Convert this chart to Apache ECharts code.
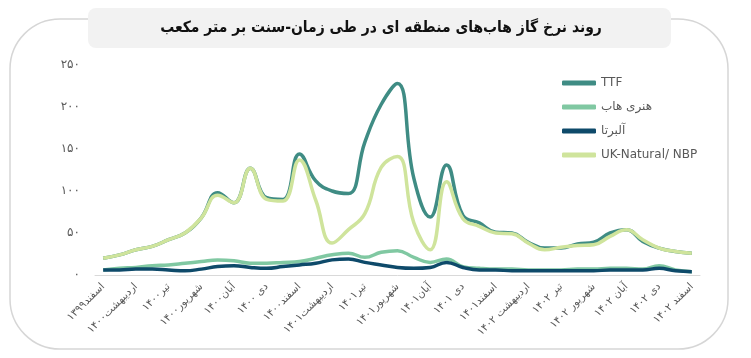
<!DOCTYPE html>
<html>
<head>
<meta charset="utf-8">
<script src="https://cdn.jsdelivr.net/npm/echarts@6/dist/echarts.min.js"></script>
<style>
html,body{margin:0;padding:0;background:#fff;}
#c{width:751px;height:358px;}
</style>
</head>
<body>
<div id="c"></div>
<script>
var months = [
  'اسفند۱۳۹۹','فروردین۱۴۰۰','اردیبهشت۱۴۰۰','خرداد۱۴۰۰','تیر۱۴۰۰','مرداد۱۴۰۰','شهریور۱۴۰۰','مهر۱۴۰۰','آبان۱۴۰۰','آذر۱۴۰۰','دی ۱۴۰۰','بهمن۱۴۰۰',
  'اسفند۱۴۰۰','فروردین۱۴۰۱','اردیبهشت۱۴۰۱','خرداد۱۴۰۱','تیر۱۴۰۱','مرداد۱۴۰۱','شهریور۱۴۰۱','مهر۱۴۰۱','آبان۱۴۰۱','آذر۱۴۰۱','دی ۱۴۰۱','بهمن۱۴۰۱',
  'اسفند۱۴۰۱','فروردین ۱۴۰۲','اردیبهشت ۱۴۰۲','خرداد ۱۴۰۲','تیر ۱۴۰۲','مرداد ۱۴۰۲','شهریور ۱۴۰۲','مهر ۱۴۰۲','آبان ۱۴۰۲','آذر ۱۴۰۲','دی ۱۴۰۲','بهمن ۱۴۰۲',
  'اسفند ۱۴۰۲'
];
var ttf     = [20,24,30,34,42,50,68,98,86,127,92,90,144,112,100,97,158,203,228,115,69,131,71,62,51,50,39,32,32,37,39,50,54,40,32,28,26];
var henry   = [6,8,9,11,12,14,16,18,17,14,14,15,16,20,24,26,21,27,29,21,15,19,10,8,7,7,6,6,6,7,7,8,8,7,11,6,4];
var alberta = [6,6,7,7,6,5,7,10,11,9,8,10,12,14,18,19,15,12,9,8,9,15,9,6,6,5,5,5,5,5,5,6,6,6,8,5,4];
var nbp     = [20,24,30,34,42,50,68,95,86,127,90,88,137,89,38,54,73,128,141,62,30,111,67,58,50,49,38,30,33,35,36,46,54,42,32,28,26];
var seriesNames = ['TTF','هنری هاب','آلبرتا','UK-Natural/ NBP'];
var yTicks = {min:0, max:250, interval:50};
var titleText = 'روند نرخ گاز هاب‌های منطقه ای در طی زمان-سنت بر متر مکعب';

function fa(n){ return String(n).replace(/[0-9]/g, function(d){ return '۰۱۲۳۴۵۶۷۸۹'[d]; }); }

var colors = ['#3f8c84','#80c8a2','#0e4a6a','#cfe49c'];
var font = 'DejaVu Sans, Noto Sans, sans-serif';

var chart = echarts.init(document.getElementById('c'));
var data = [ttf, henry, alberta, nbp];
chart.setOption({
  animation:false,
  color: colors,
  graphic:[
    {type:'rect', z:-10, shape:{x:10,y:19,width:718,height:330,r:50}, style:{fill:'#fff', stroke:'#d6d6d6', lineWidth:1.5}},
    {type:'rect', z:-5, shape:{x:88,y:8,width:583,height:40,r:8}, style:{fill:'#f2f2f2'}},
    {type:'text', z:10, x:381, y:28, style:{text:titleText, fill:'#111', font:'bold 15.5px "DejaVu Sans Condensed", DejaVu Sans, sans-serif', align:'center', verticalAlign:'middle'}}
  ],
  grid:{left:95,right:51,top:65,bottom:83, containLabel:false, outerBoundsMode:'none'},
  legend:{
    orient:'vertical', left:557, top:72, itemWidth:34, itemHeight:5, itemGap:12, icon:'roundRect',
    textStyle:{color:'#595959', fontSize:12, fontFamily:font},
    data: seriesNames
  },
  xAxis:{
    type:'category', data: months, boundaryGap:true,
    axisLine:{lineStyle:{color:'#d9d9d9', width:1}},
    axisTick:{show:false},
    axisLabel:{interval:1, rotate:45, color:'#595959', fontSize:10.5, fontFamily:font, margin:10}
  },
  yAxis:{
    type:'value', min:yTicks.min, max:yTicks.max, interval:yTicks.interval,
    axisLine:{show:false}, axisTick:{show:false}, splitLine:{show:false},
    axisLabel:{color:'#595959', fontSize:12, fontFamily:font, margin:15, formatter:function(v){return fa(v);}}
  },
  series: seriesNames.map(function(n,i){
    return {name:n, type:'line', data:data[i], smooth:0.45, showSymbol:false, symbol:'none',
      lineStyle:{width:3.5, color:colors[i]}, itemStyle:{color:colors[i]}};
  })
});
</script>
</body>
</html>
